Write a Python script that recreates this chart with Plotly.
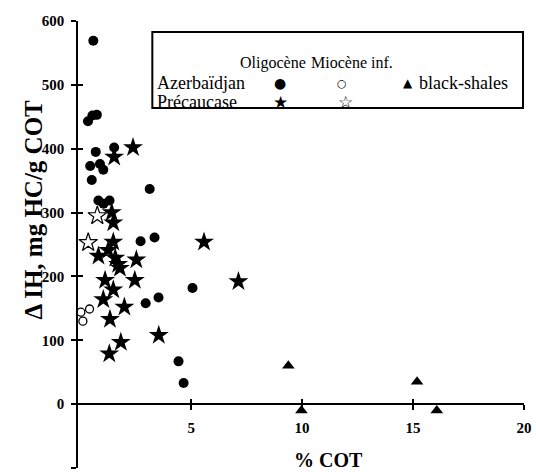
import plotly.graph_objects as go

# ---- data ----
az_olig_x = [0.59, 0.35, 0.55, 0.75, 0.70, 1.53, 0.45, 0.89, 1.04, 0.52, 3.13, 0.82, 1.05, 1.32, 2.72, 3.35, 5.06, 2.95, 3.53, 4.43, 4.66]
az_olig_y = [569, 443, 452, 453, 395, 402, 373, 376, 367, 351, 337, 319, 314, 319, 255, 261, 182, 158, 167, 67, 33]

az_mio_x = [0.03, 0.42, 0.12]
az_mio_y = [144, 149, 130]

pc_olig_x = [1.53, 2.38, 1.42, 1.49, 1.49, 1.26, 0.82, 1.58, 1.71, 1.79, 2.53, 2.46, 1.12, 1.49, 1.04, 1.99, 1.34, 1.83, 1.31, 3.54, 5.58, 7.13]
pc_olig_y = [387, 402, 300, 284, 254, 241, 232, 229, 219, 213, 226, 194, 194, 179, 164, 152, 133, 97, 79, 108, 254, 192]

pc_mio_x = [0.77, 0.36]
pc_mio_y = [295, 253]

bs_x = [9.38, 15.18, 9.97, 16.07]
bs_y = [60, 35, -10, -10]

x_ticks = [5, 10, 15, 20]
y_ticks = [-100, 0, 100, 200, 300, 400, 500, 600]

# ---- layout geometry ----
W, H = 536, 472
ML, MR, MT, MB = 78, 8, 21, 4
XR = [-0.1, 20]
YR = [-100, 600]
PW, PH = W - ML - MR, H - MT - MB

def px2x(px):
    return (px - ML) / PW

def px2y(py):
    return (H - MB - py) / PH

FONT = "Liberation Serif, Times New Roman, serif"
y0pos = (0 - YR[0]) / (YR[1] - YR[0])

fig = go.Figure()

fig.add_trace(go.Scatter(x=az_olig_x, y=az_olig_y, mode="markers",
                         marker=dict(symbol="circle", size=10, color="black", line=dict(width=0))))
fig.add_trace(go.Scatter(x=az_mio_x, y=az_mio_y, mode="markers",
                         marker=dict(symbol="circle-open", size=8, color="black", line=dict(width=1.3))))
fig.add_trace(go.Scatter(x=pc_olig_x, y=pc_olig_y, mode="markers",
                         marker=dict(symbol="star", size=15, color="black", line=dict(width=0))))
fig.add_trace(go.Scatter(x=pc_mio_x, y=pc_mio_y, mode="markers",
                         marker=dict(symbol="star-open", size=14, color="black", line=dict(width=1.2))))
fig.add_trace(go.Scatter(x=bs_x, y=bs_y, mode="markers",
                         marker=dict(symbol="triangle-up", size=11, color="black", line=dict(width=0))))
# invisible trace to carry the overlay axes (inner half of crossing ticks)
fig.add_trace(go.Scatter(x=[None], y=[None], xaxis="x2", yaxis="y2", showlegend=False))

tickfont = dict(family=FONT, size=15, color="black", weight="bold")

fig.update_layout(
    width=W, height=H,
    margin=dict(l=ML, r=MR, t=MT, b=MB),
    paper_bgcolor="white", plot_bgcolor="white",
    showlegend=False,
    font=dict(family=FONT, color="black"),
    xaxis=dict(range=XR, showgrid=False, zeroline=False, showline=True, linecolor="black", linewidth=1.5,
               anchor="free", position=y0pos, tickmode="array", tickvals=x_ticks,
               ticks="outside", ticklen=5, tickwidth=1.5, tickcolor="black",
               tickfont=tickfont, ticklabelstandoff=5),
    yaxis=dict(range=YR, showgrid=False, zeroline=False, showline=True, linecolor="black", linewidth=1.5,
               tickmode="array", tickvals=y_ticks, ticks="outside", ticklen=5, tickwidth=1.5,
               tickcolor="black", tickfont=tickfont, ticklabelstandoff=4),
    xaxis2=dict(range=XR, overlaying="x", anchor="free", position=y0pos, showgrid=False, zeroline=False,
                showline=False, tickmode="array", tickvals=x_ticks, ticks="inside", ticklen=5,
                tickwidth=1.5, tickcolor="black", showticklabels=False),
    yaxis2=dict(range=YR, overlaying="y", showgrid=False, zeroline=False, showline=False,
                tickmode="array", tickvals=y_ticks, ticks="inside", ticklen=5, tickwidth=1.5,
                tickcolor="black", showticklabels=False),
)

# axis titles
fig.add_annotation(text="% COT", xref="paper", yref="paper", x=px2x(331), y=px2y(460),
                   xanchor="center", yanchor="middle", showarrow=False,
                   font=dict(family=FONT, size=20, color="black", weight="bold"))
fig.add_annotation(text="Δ IH, mg HC/g COT", xref="paper", yref="paper", x=px2x(34), y=px2y(210),
                   xanchor="center", yanchor="middle", showarrow=False, textangle=-90,
                   font=dict(family=FONT, size=25, color="black", weight="bold"))

# legend box
fig.add_shape(type="rect", xref="paper", yref="paper", x0=px2x(153), x1=px2x(527), y0=px2y(108), y1=px2y(32),
              line=dict(color="black", width=2), fillcolor="white", layer="below")

row_font = dict(family=FONT, size=18, color="black")
head_font = dict(family=FONT, size=16, color="black")
legend_items = [
    ("Oligocène", 275, 63, "center", head_font),
    ("Miocène inf.", 354, 63, "center", head_font),
    ("Azerbaïdjan", 156, 83, "left", row_font),
    ("Précaucase", 156, 102, "left", row_font),
    ("black-shales", 420, 83, "left", row_font),
    ("●", 282, 83, "center", dict(family="DejaVu Sans", size=14, color="black")),
    ("○", 344, 83, "center", dict(family="DejaVu Sans", size=11, color="black")),
    ("▲", 411, 83, "center", dict(family="DejaVu Sans", size=12, color="black")),
    ("★", 282, 102, "center", dict(family="DejaVu Sans", size=17, color="black")),
    ("☆", 348, 102, "center", dict(family="DejaVu Sans", size=17, color="black")),
]
for txt, px, py, anc, fnt in legend_items:
    fig.add_annotation(text=txt, xref="paper", yref="paper", x=px2x(px), y=px2y(py),
                       xanchor=anc, yanchor="middle", showarrow=False, font=fnt)

fig.write_html("out.html")
